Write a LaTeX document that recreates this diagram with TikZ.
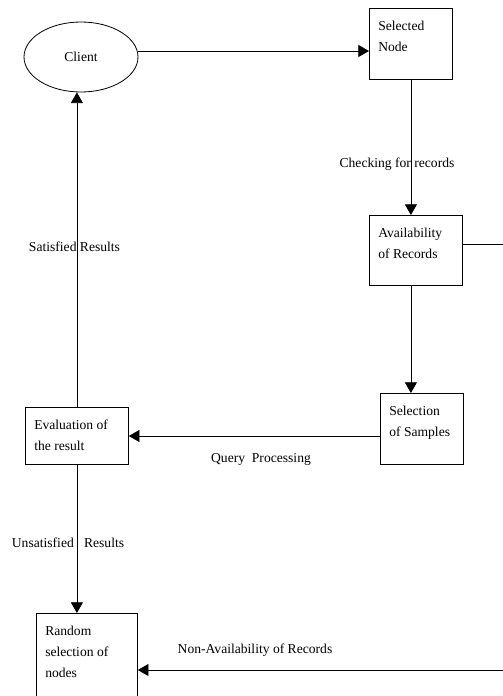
\documentclass[tikz,border=0pt]{standalone}
\usepackage{fontspec}
\setmainfont{Liberation Serif}
\usetikzlibrary{arrows.meta, calc, positioning, shapes.geometric}

\begin{document}
\begin{tikzpicture}[x=0.75pt, y=-0.75pt,
    font=\fontsize{10.2}{15.8}\selectfont,
    arr/.style={-{Triangle[length=8pt, width=9pt]}, line width=0.6pt},
    procbox/.style={draw, line width=0.6pt, rectangle, anchor=north west, inner sep=0pt},
    boxtext/.style={anchor=north west, align=left, inner xsep=6.75pt, inner ysep=9.5pt},
    lbl/.style={inner sep=0pt}]
    \useasboundingbox (0,0) rectangle (503,696);
    \clip (0,0) rectangle (503,696);

    % Client and the process boxes
    \node[draw, ellipse, line width=0.6pt, minimum width=85.5pt, minimum height=52.5pt, inner sep=0pt] (client) at (81,57) {\raisebox{-2pt}{Client}};
    \node[procbox, minimum width=62.25pt, minimum height=53.25pt, label={[boxtext]north west:{Selected\\Node}}] (selnode) at (369,8) {};
    \node[procbox, minimum width=69.75pt, minimum height=52.5pt, label={[boxtext]north west:{Availability\\of Records}}] (avail) at (369,215) {};
    \node[procbox, minimum width=62.25pt, minimum height=53.25pt, label={[boxtext]north west:{Selection\\of Samples}}] (samples) at (380,393) {};
    \node[procbox, minimum width=77.25pt, minimum height=42.75pt, label={[boxtext]north west:{Evaluation of\\the result}}] (evalres) at (25,407) {};
    \node[procbox, minimum width=75.75pt, minimum height=69pt, label={[boxtext]north west:{Random\\selection of\\nodes}}] (randsel) at (36,613) {};

    % Connector labels
    \node[lbl] (checklbl) at (397,164) {Checking for records};
    \node[lbl] (satlbl) at (74.5,247) {Satisfied Results};
    \node[lbl] (qplbl) at (261,459) {Query\ \ Processing};
    \node[lbl] (unsatlbl) at (68,543) {Unsatisfied\ \ \ Results};
    \node[lbl] (nalbl) at (255,650) {Non-Availability of Records};

    % Connectors
    \coordinate (selin) at ($(selnode.north west)+(0,43)$);
    \coordinate (qpin) at ($(evalres.north east)+(0,29)$);
    \coordinate (availout) at ($(avail.north east)+(0,29)$);
    \coordinate (randin) at ($(randsel.north east)+(0,57)$);
    \coordinate (rightbus) at (520,0);

    \draw[arr] (client.east |- selin) -- (selin);
    \draw[arr] (selnode.south) -- (selnode.south |- avail.north);
    \draw[arr] (selnode.south |- avail.south) -- (selnode.south |- samples.north);
    \draw[arr] (samples.west |- qpin) -- (qpin);
    \draw[arr] (evalres.north) -- (evalres.north |- client.south);
    \draw[arr] (evalres.south) -- (evalres.south |- randsel.north);
    \draw[arr] (availout) -- (availout -| rightbus) |- (randin);
\end{tikzpicture}
\end{document}
